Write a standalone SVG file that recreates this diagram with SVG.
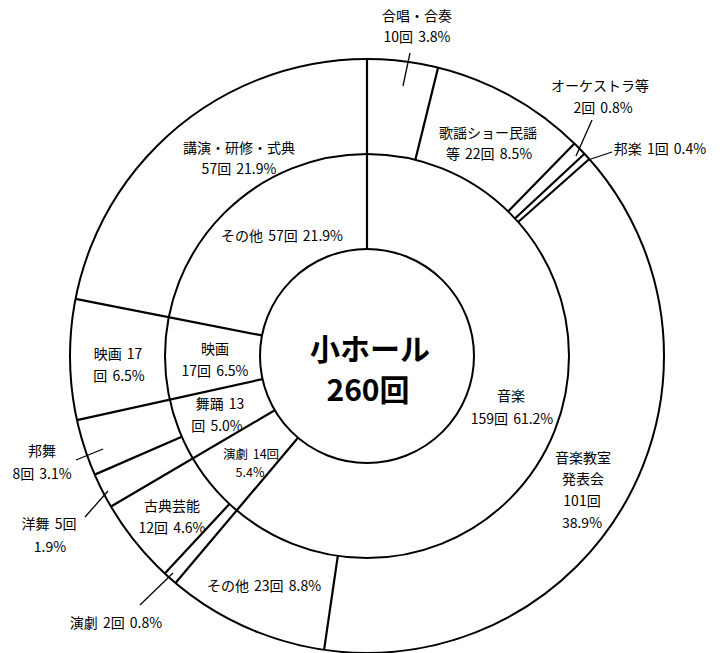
<svg xmlns="http://www.w3.org/2000/svg" width="726" height="653" viewBox="0 0 726 653">
<style>
.ring{fill:none;stroke:#000;stroke-width:2}
.div{stroke:#000;stroke-width:2.2;fill:none}
.lead{stroke:#000;stroke-width:1.3;fill:none}
text{font-family:"Noto Sans CJK JP","Liberation Sans",sans-serif;font-size:14px;word-spacing:2px;fill:#000;text-anchor:middle;dominant-baseline:central}
.sm{font-size:12.5px}
.title{font-size:30px;font-weight:bold}
</style>
<rect width="726" height="653" fill="#fff"/>
<g id="rings">
<circle class="ring" cx="367" cy="356" r="297"/>
<circle class="ring" cx="367" cy="356" r="202"/>
<circle class="ring" cx="367" cy="356" r="107"/>
</g>
<g id="dividers">
<line class="div" x1="367" y1="249" x2="367" y2="59"/>
<line class="div" x1="415.34" y1="159.87" x2="438.08" y2="67.63"/>
<line class="div" x1="508.10" y1="211.45" x2="574.46" y2="143.47"/>
<line class="div" x1="514.94" y1="218.46" x2="584.52" y2="153.77"/>
<line class="div" x1="518.20" y1="222.05" x2="589.31" y2="159.05"/>
<line class="div" x1="337.81" y1="555.88" x2="324.08" y2="649.88"/>
<line class="div" x1="298.00" y1="437.78" x2="175.49" y2="583.01"/>
<line class="div" x1="229.47" y1="503.95" x2="164.79" y2="573.53"/>
<line class="div" x1="274.77" y1="410.24" x2="110.99" y2="506.55"/>
<line class="div" x1="181.80" y1="436.67" x2="94.70" y2="474.62"/>
<line class="div" x1="262.52" y1="379.09" x2="77.00" y2="420.09"/>
<line class="div" x1="261.99" y1="335.44" x2="75.53" y2="298.94"/>
</g>
<g id="connectors">
<line class="lead" x1="410" y1="53" x2="403" y2="86"/>
<line class="lead" x1="592" y1="120" x2="576" y2="156"/>
<line class="lead" x1="612" y1="152" x2="588" y2="160"/>
<line class="lead" x1="76" y1="460" x2="103" y2="449"/>
<line class="lead" x1="85" y1="517" x2="108" y2="491"/>
<line class="lead" x1="140" y1="605" x2="173" y2="573"/>
</g>
<g id="center"><text class="title" x="370" y="347">小ホール</text><text class="title" x="368" y="388">260回</text></g>
<g id="inner-music"><text x="511" y="395">音楽</text><text x="512" y="418">159回 61.2%</text></g>
<g id="inner-theatre"><text class="sm" x="251" y="453">演劇 14回</text><text class="sm" x="250" y="471">5.4%</text></g>
<g id="inner-dance"><text x="220" y="403">舞踊 13</text><text x="217" y="425">回 5.0%</text></g>
<g id="inner-film"><text x="215" y="348">映画</text><text x="215" y="370">17回 6.5%</text></g>
<g id="inner-other"><text x="282" y="235">その他 57回 21.9%</text></g>
<g id="outer-chorus"><text x="417" y="15">合唱・合奏</text><text x="417" y="36">10回 3.8%</text></g>
<g id="outer-kayo"><text x="488" y="132">歌謡ショー民謡</text><text x="489" y="153">等 22回 8.5%</text></g>
<g id="outer-orchestra"><text x="600" y="85">オーケストラ等</text><text x="603" y="107">2回 0.8%</text></g>
<g id="outer-hogaku"><text x="660" y="148">邦楽 1回 0.4%</text></g>
<g id="outer-kyoshitsu"><text x="583" y="457">音楽教室</text><text x="583" y="478">発表会</text><text x="582" y="500">101回</text><text x="582" y="522">38.9%</text></g>
<g id="outer-music-other"><text x="264" y="585">その他 23回 8.8%</text></g>
<g id="outer-engeki"><text x="116" y="622">演劇 2回 0.8%</text></g>
<g id="outer-koten"><text x="172" y="505">古典芸能</text><text x="172" y="527">12回 4.6%</text></g>
<g id="outer-yobu"><text x="49" y="523">洋舞 5回</text><text x="50" y="546">1.9%</text></g>
<g id="outer-hobu"><text x="42" y="450">邦舞</text><text x="42" y="473">8回 3.1%</text></g>
<g id="outer-film"><text x="118" y="353">映画 17</text><text x="119" y="375">回 6.5%</text></g>
<g id="outer-lecture"><text x="239" y="147">講演・研修・式典</text><text x="239" y="168">57回 21.9%</text></g>
</svg>
